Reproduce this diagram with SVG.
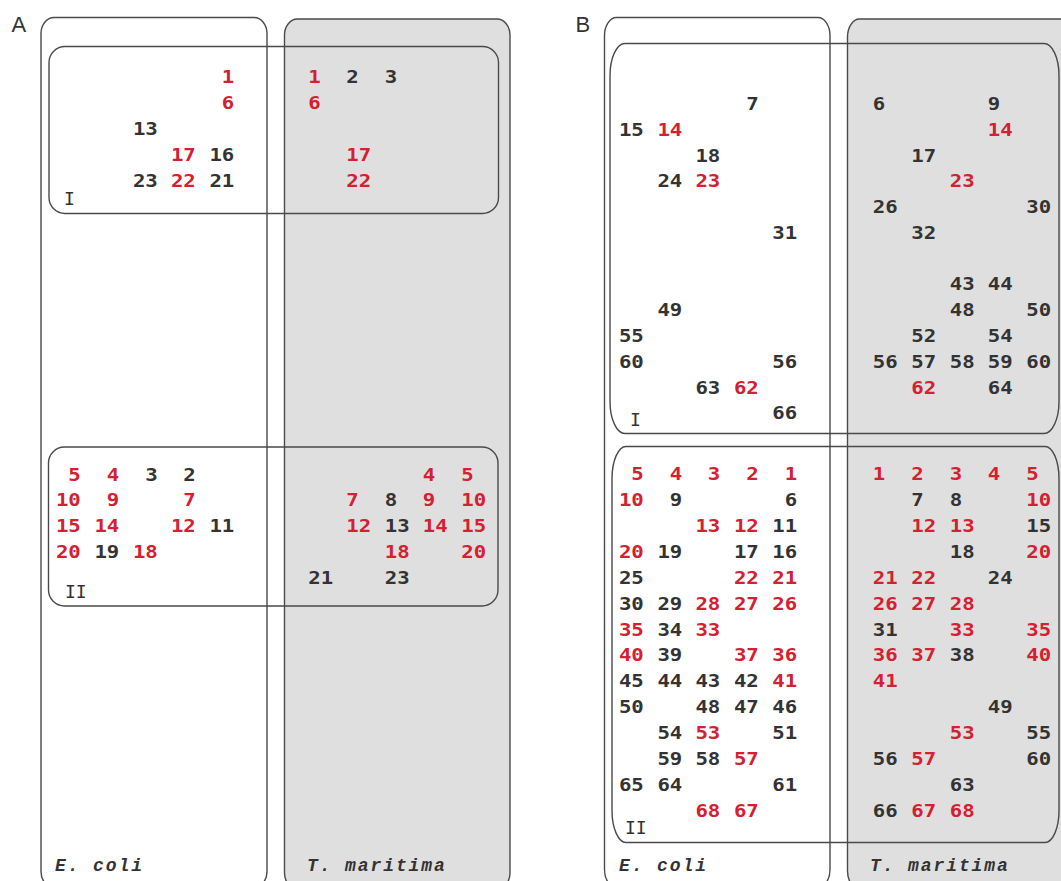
<svg xmlns="http://www.w3.org/2000/svg" width="1061" height="881" viewBox="0 0 1061 881">
<style>
.bg{fill:#ffffff}
.outer{fill:none;stroke:#4a4a4a;stroke-width:1.4}
.shade{fill:#dfdfdf;stroke:#4a4a4a;stroke-width:1.4}
.inner{fill:none;stroke:#4a4a4a;stroke-width:1.4}
text{font-family:"DejaVu Sans Mono",monospace;font-size:18px;font-weight:bold}
.n{fill:#333333}
.r{fill:#d42030}
.e{text-anchor:end}
.lab{font-family:"Liberation Mono","DejaVu Sans Mono",monospace;font-style:italic;font-weight:bold;fill:#333333;letter-spacing:1.9px}
.pl{font-family:"Liberation Sans",Arial,sans-serif;font-size:22px;font-weight:normal;fill:#333333}
.rl{font-weight:normal;fill:#333333}
</style>
<rect class="bg" x="0" y="0" width="1061" height="881"/>

<!-- Panel A -->
<g id="panelA">
<text class="pl" x="11.5" y="31.7">A</text>
<g id="A-tmaritima"><rect class="shade" x="284.5" y="19" width="225.5" height="870" rx="13" ry="16"/>
<text class="lab" x="307" y="871">T. maritima</text></g>
<g id="A-ecoli"><rect class="outer" x="41" y="17.5" width="226" height="870" rx="13" ry="16"/>
<text class="lab" x="55" y="871">E. coli</text></g>
<g id="A-I">
<rect class="inner" x="49" y="46.5" width="449.5" height="167" rx="16" ry="16"/>
<text class="rl" x="64" y="205">I</text>
<g transform="scale(1.15,1)">
<g class="e">
<text class="r" x="203.74" y="83.3">1</text>
<text class="r" x="203.74" y="109.3">6</text>
<text class="n" x="137.22" y="135.3">13</text>
<text class="r" x="170.26" y="161.3">17</text><text class="n" x="203.74" y="161.3">16</text>
<text class="n" x="137.22" y="187.3">23</text><text class="r" x="170.26" y="187.3">22</text><text class="n" x="203.74" y="187.3">21</text>
</g>
<text class="r" x="268" y="83.3">1</text><text class="n" x="301.04" y="83.3">2</text><text class="n" x="334.52" y="83.3">3</text>
<text class="r" x="268" y="109.3">6</text>
<text class="r" x="301.04" y="161.3">17</text>
<text class="r" x="301.04" y="187.3">22</text>
</g>
</g>
<g id="A-II">
<rect class="inner" x="48.5" y="447" width="449.5" height="159" rx="16" ry="16"/>
<text class="rl" x="65" y="598">II</text>
<g transform="scale(1.15,1)">
<g class="e">
<text class="r" x="70.26" y="480.7">5</text><text class="r" x="103.74" y="480.7">4</text><text class="n" x="137.22" y="480.7">3</text><text class="n" x="170.26" y="480.7">2</text>
<text class="r" x="70.26" y="506.5">10</text><text class="r" x="103.74" y="506.5">9</text><text class="r" x="170.26" y="506.5">7</text>
<text class="r" x="70.26" y="532.3">15</text><text class="r" x="103.74" y="532.3">14</text><text class="r" x="170.26" y="532.3">12</text><text class="n" x="203.74" y="532.3">11</text>
<text class="r" x="70.26" y="558.1">20</text><text class="n" x="103.74" y="558.1">19</text><text class="r" x="137.22" y="558.1">18</text>
</g>
<text class="r" x="367.57" y="480.7">4</text><text class="r" x="401.04" y="480.7">5</text>
<text class="r" x="301.04" y="506.5">7</text><text class="n" x="334.52" y="506.5">8</text><text class="r" x="367.57" y="506.5">9</text><text class="r" x="401.04" y="506.5">10</text>
<text class="r" x="301.04" y="532.3">12</text><text class="n" x="334.52" y="532.3">13</text><text class="r" x="367.57" y="532.3">14</text><text class="r" x="401.04" y="532.3">15</text>
<text class="r" x="334.52" y="558.1">18</text><text class="r" x="401.04" y="558.1">20</text>
<text class="n" x="268" y="583.9">21</text><text class="n" x="334.52" y="583.9">23</text>
</g>
</g>
</g>

<!-- Panel B -->
<g id="panelB">
<text class="pl" x="575.5" y="31.7">B</text>
<g id="B-tmaritima"><rect class="shade" x="847.5" y="19" width="240" height="870" rx="12" ry="18"/>
<text class="lab" x="870" y="871">T. maritima</text></g>
<g id="B-ecoli"><rect class="outer" x="604.5" y="17.5" width="225.5" height="870" rx="12" ry="18"/>
<text class="lab" x="619" y="871">E. coli</text></g>
<g id="B-I">
<rect class="inner" x="610" y="43.5" width="449" height="390" rx="15" ry="32"/>
<text class="rl" x="630" y="426">I</text>
<g transform="scale(1.15,1)">
<g class="e">
<text class="n" x="659.83" y="110">7</text>
<text class="n" x="559.83" y="135.8">15</text><text class="r" x="593.3" y="135.8">14</text>
<text class="n" x="626.35" y="161.6">18</text>
<text class="n" x="593.3" y="187.3">24</text><text class="r" x="626.35" y="187.3">23</text>
<text class="n" x="693.3" y="238.9">31</text>
<text class="n" x="593.3" y="316.2">49</text>
<text class="n" x="559.83" y="342">55</text>
<text class="n" x="559.83" y="367.8">60</text><text class="n" x="693.3" y="367.8">56</text>
<text class="n" x="626.35" y="393.6">63</text><text class="r" x="659.83" y="393.6">62</text>
<text class="n" x="693.3" y="419.4">66</text>
</g>
<text class="n" x="758.87" y="110">6</text><text class="n" x="858.87" y="110">9</text>
<text class="r" x="858.87" y="135.8">14</text>
<text class="n" x="792.35" y="161.6">17</text>
<text class="r" x="825.83" y="187.3">23</text>
<text class="n" x="758.87" y="213.1">26</text><text class="n" x="892.35" y="213.1">30</text>
<text class="n" x="792.35" y="238.9">32</text>
<text class="n" x="825.83" y="290.5">43</text><text class="n" x="858.87" y="290.5">44</text>
<text class="n" x="825.83" y="316.2">48</text><text class="n" x="892.35" y="316.2">50</text>
<text class="n" x="792.35" y="342">52</text><text class="n" x="858.87" y="342">54</text>
<text class="n" x="758.87" y="367.8">56</text><text class="n" x="792.35" y="367.8">57</text><text class="n" x="825.83" y="367.8">58</text><text class="n" x="858.87" y="367.8">59</text><text class="n" x="892.35" y="367.8">60</text>
<text class="r" x="792.35" y="393.6">62</text><text class="n" x="858.87" y="393.6">64</text>
</g>
</g>
<g id="B-II">
<rect class="inner" x="612" y="446.5" width="447" height="396" rx="14" ry="32"/>
<text class="rl" x="625" y="834">II</text>
<g transform="scale(1.15,1)">
<g class="e">
<text class="r" x="559.83" y="480.5">5</text><text class="r" x="593.3" y="480.5">4</text><text class="r" x="626.35" y="480.5">3</text><text class="r" x="659.83" y="480.5">2</text><text class="r" x="693.3" y="480.5">1</text>
<text class="r" x="559.83" y="506.4">10</text><text class="n" x="593.3" y="506.4">9</text><text class="n" x="693.3" y="506.4">6</text>
<text class="r" x="626.35" y="532.2">13</text><text class="r" x="659.83" y="532.2">12</text><text class="n" x="693.3" y="532.2">11</text>
<text class="r" x="559.83" y="558.1">20</text><text class="n" x="593.3" y="558.1">19</text><text class="n" x="659.83" y="558.1">17</text><text class="n" x="693.3" y="558.1">16</text>
<text class="n" x="559.83" y="583.9">25</text><text class="r" x="659.83" y="583.9">22</text><text class="r" x="693.3" y="583.9">21</text>
<text class="n" x="559.83" y="609.8">30</text><text class="n" x="593.3" y="609.8">29</text><text class="r" x="626.35" y="609.8">28</text><text class="r" x="659.83" y="609.8">27</text><text class="r" x="693.3" y="609.8">26</text>
<text class="r" x="559.83" y="635.6">35</text><text class="n" x="593.3" y="635.6">34</text><text class="r" x="626.35" y="635.6">33</text>
<text class="r" x="559.83" y="661.5">40</text><text class="n" x="593.3" y="661.5">39</text><text class="r" x="659.83" y="661.5">37</text><text class="r" x="693.3" y="661.5">36</text>
<text class="n" x="559.83" y="687.3">45</text><text class="n" x="593.3" y="687.3">44</text><text class="n" x="626.35" y="687.3">43</text><text class="n" x="659.83" y="687.3">42</text><text class="r" x="693.3" y="687.3">41</text>
<text class="n" x="559.83" y="713.2">50</text><text class="n" x="626.35" y="713.2">48</text><text class="n" x="659.83" y="713.2">47</text><text class="n" x="693.3" y="713.2">46</text>
<text class="n" x="593.3" y="739">54</text><text class="r" x="626.35" y="739">53</text><text class="n" x="693.3" y="739">51</text>
<text class="n" x="593.3" y="764.9">59</text><text class="n" x="626.35" y="764.9">58</text><text class="r" x="659.83" y="764.9">57</text>
<text class="n" x="559.83" y="790.7">65</text><text class="n" x="593.3" y="790.7">64</text><text class="n" x="693.3" y="790.7">61</text>
<text class="r" x="626.35" y="816.6">68</text><text class="r" x="659.83" y="816.6">67</text>
</g>
<text class="r" x="758.87" y="480.5">1</text><text class="r" x="792.35" y="480.5">2</text><text class="r" x="825.83" y="480.5">3</text><text class="r" x="858.87" y="480.5">4</text><text class="r" x="892.35" y="480.5">5</text>
<text class="n" x="792.35" y="506.4">7</text><text class="n" x="825.83" y="506.4">8</text><text class="r" x="892.35" y="506.4">10</text>
<text class="r" x="792.35" y="532.2">12</text><text class="r" x="825.83" y="532.2">13</text><text class="n" x="892.35" y="532.2">15</text>
<text class="n" x="825.83" y="558.1">18</text><text class="r" x="892.35" y="558.1">20</text>
<text class="r" x="758.87" y="583.9">21</text><text class="r" x="792.35" y="583.9">22</text><text class="n" x="858.87" y="583.9">24</text>
<text class="r" x="758.87" y="609.8">26</text><text class="r" x="792.35" y="609.8">27</text><text class="r" x="825.83" y="609.8">28</text>
<text class="n" x="758.87" y="635.6">31</text><text class="r" x="825.83" y="635.6">33</text><text class="r" x="892.35" y="635.6">35</text>
<text class="r" x="758.87" y="661.5">36</text><text class="r" x="792.35" y="661.5">37</text><text class="n" x="825.83" y="661.5">38</text><text class="r" x="892.35" y="661.5">40</text>
<text class="r" x="758.87" y="687.3">41</text>
<text class="n" x="858.87" y="713.2">49</text>
<text class="r" x="825.83" y="739">53</text><text class="n" x="892.35" y="739">55</text>
<text class="n" x="758.87" y="764.9">56</text><text class="r" x="792.35" y="764.9">57</text><text class="n" x="892.35" y="764.9">60</text>
<text class="n" x="825.83" y="790.7">63</text>
<text class="n" x="758.87" y="816.6">66</text><text class="r" x="792.35" y="816.6">67</text><text class="r" x="825.83" y="816.6">68</text>
</g>
</g>
</g>
</svg>
